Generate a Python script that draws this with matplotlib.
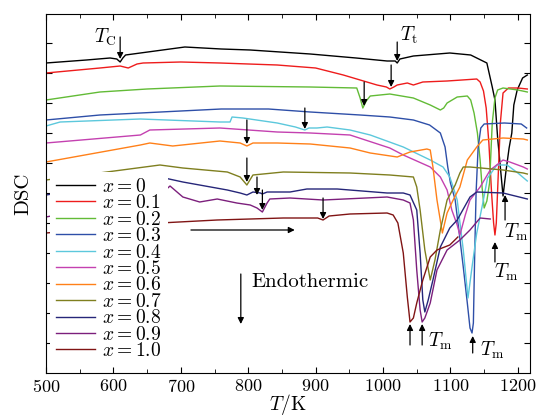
import matplotlib
matplotlib.use("Agg")
import matplotlib.pyplot as plt

plt.rcParams['mathtext.fontset'] = 'cm'
plt.rcParams['font.family'] = 'serif'
plt.rcParams['font.serif'] = ['cmr10']
plt.rcParams['axes.formatter.use_mathtext'] = True

# DSC traces (temperature in K, signal in arbitrary units)
T_00 = [500, 560, 595, 605, 610, 614, 618, 640, 706, 760, 803, 892, 960, 1006, 1018, 1021, 1025, 1045, 1099,
        1130, 1145, 1154, 1162, 1166, 1170, 1174, 1178, 1182, 1187, 1191, 1194, 1199, 1207, 1214]
dsc_00 = [310, 313, 315, 314, 311, 315, 318, 320, 326, 324, 323, 319, 315, 312, 312, 310, 314, 317, 320,
          318, 313, 310, 286, 273, 235, 206, 177, 200, 225, 240, 268, 283, 295, 298]

T_01 = [500, 580, 610, 622, 635, 644, 700, 758, 843, 900, 941, 991, 1005, 1010, 1016, 1021, 1036, 1045, 1059,
        1095, 1139, 1144, 1149, 1153, 1157, 1161, 1164, 1166, 1168, 1171, 1174, 1178, 1186, 1200, 1214]
dsc_01 = [300, 305, 307, 305, 309, 310, 311, 310, 308, 305, 298, 288, 286, 284, 286, 288, 290, 288, 291,
          292, 294, 291, 282, 265, 230, 180, 150, 138, 150, 200, 250, 280, 285, 285, 284]

T_02 = [500, 580, 650, 758, 892, 961, 966, 970, 975, 981, 1010, 1045, 1070, 1085, 1090, 1095, 1110, 1125,
        1130, 1135, 1140, 1144, 1147, 1150, 1154, 1158, 1162, 1166, 1170, 1178, 1200, 1214]
dsc_02 = [273, 281, 284, 287, 286, 285, 275, 265, 272, 277, 279, 275, 268, 263, 265, 270, 276, 277,
          273, 260, 240, 213, 185, 165, 172, 190, 250, 275, 283, 285, 283, 281]

T_03 = [500, 580, 700, 760, 830, 892, 966, 1010, 1045, 1069, 1085, 1092, 1096, 1100, 1107, 1113, 1119, 1125,
        1129, 1132, 1134, 1136, 1138, 1141, 1145, 1150, 1180, 1205, 1213]
dsc_03 = [253, 258, 262, 264, 264, 261, 258, 256, 253, 248, 240, 226, 206, 190, 173, 140, 106, 70,
          45, 40, 50, 120, 180, 225, 245, 249, 250, 249, 245]

T_04 = [500, 521, 640, 758, 773, 776, 792, 843, 870, 884, 890, 902, 917, 951, 981, 1030, 1070, 1089, 1099,
        1104, 1110, 1119, 1126, 1132, 1139, 1148, 1155, 1169, 1184, 1200, 1214]
dsc_04 = [247, 251, 254, 251, 251, 256, 255, 250, 246, 243, 245, 245, 246, 243, 238, 226, 213, 206, 196,
          186, 173, 123, 75, 106, 140, 170, 195, 208, 208, 200, 192]

T_05 = [500, 640, 654, 758, 843, 892, 951, 1010, 1030, 1070, 1085, 1095, 1102, 1110, 1114, 1122, 1129, 1144,
        1159, 1178, 1188, 1208, 1214]
dsc_05 = [230, 238, 243, 245, 241, 240, 238, 225, 218, 206, 196, 183, 163, 148, 138, 158, 173, 186,
          203, 213, 211, 206, 204]

T_06 = [500, 640, 654, 688, 758, 788, 798, 807, 843, 892, 951, 981, 1021, 1040, 1065, 1070, 1074, 1080, 1088,
        1095, 1104, 1114, 1125, 1139, 1148, 1178, 1208, 1214]
dsc_06 = [211, 228, 230, 227, 232, 230, 227, 230, 230, 229, 225, 220, 216, 221, 224, 223, 206, 173, 140,
          160, 173, 186, 213, 226, 233, 235, 234, 233]

T_07 = [500, 669, 703, 769, 788, 798, 807, 852, 951, 1010, 1045, 1050, 1055, 1062, 1070, 1077, 1085, 1095,
        1107, 1114, 1119, 1129, 1178, 1208, 1214]
dsc_07 = [193, 208, 205, 201, 196, 188, 198, 201, 200, 198, 196, 186, 163, 123, 93, 113, 143, 173,
          188, 200, 206, 206, 203, 200, 199]

T_08 = [500, 669, 703, 769, 788, 798, 807, 818, 821, 828, 862, 887, 932, 1006, 1030, 1040, 1050, 1055, 1059,
        1062, 1067, 1074, 1085, 1099, 1110, 1129, 1139, 1178, 1208, 1214]
dsc_08 = [178, 196, 191, 183, 180, 178, 181, 180, 179, 181, 181, 184, 184, 180, 180, 178, 163, 120, 73,
          61, 73, 93, 126, 145, 153, 176, 181, 180, 175, 174]

T_09 = [500, 669, 684, 703, 728, 754, 783, 803, 813, 821, 828, 832, 862, 911, 1006, 1030, 1040, 1045, 1050,
        1055, 1058, 1062, 1070, 1080, 1095, 1114, 1129, 1144, 1159]
dsc_09 = [156, 178, 187, 176, 171, 174, 170, 168, 165, 161, 170, 174, 175, 173, 176, 173, 170, 153, 103,
          63, 51, 55, 70, 103, 123, 133, 143, 155, 154]

T_10 = [500, 669, 754, 852, 903, 911, 920, 951, 1006, 1015, 1022, 1030, 1036, 1040, 1045, 1050, 1059, 1070,
        1080, 1099, 1111]
dsc_10 = [140, 150, 153, 155, 155, 153, 157, 159, 160, 158, 150, 120, 76, 51, 55, 70, 93, 116,
          123, 128, 136]

labels = ['0', '0.1', '0.2', '0.3', '0.4', '0.5', '0.6', '0.7', '0.8', '0.9', '1.0']
colors = ['#000000', '#ee1c1c', '#62bb36', '#2e4fa8', '#5cc8dc', '#c441b0', '#ff8019',
          '#7f7f1f', '#262679', '#7c1f7c', '#801414']

# arrows: (T, start, tip)
down_arrows = [(610, 336, 314), (1021, 331, 312), (1012, 308, 286), (972, 291, 267), (884, 265, 244),
               (798, 253, 229), (798, 215, 191), (813, 196, 178), (821, 183, 163), (911, 175, 154)]
up_arrows = [(1181, 153, 178), (1166, 111, 131), (1133, 20, 37), (1040, 28, 49), (1058, 28, 49)]
tm_labels = [(1179, 141), (1164, 101), (1144, 23), (1066, 32)]

temps = [T_00, T_01, T_02, T_03, T_04, T_05, T_06, T_07, T_08, T_09, T_10]
signals = [dsc_00, dsc_01, dsc_02, dsc_03, dsc_04, dsc_05, dsc_06, dsc_07, dsc_08, dsc_09, dsc_10]

fig = plt.figure(figsize=(5.36, 4.19), dpi=100)
ax = fig.add_axes([46 / 536, 46 / 419, 484 / 536, 359 / 419])

for t, s, lab, c in zip(temps, signals, labels, colors):
    ax.plot(t, s, color=c, lw=1.0, label=r'$x=%s$' % lab)

arrow_kw = dict(arrowstyle='-|>', color='k', lw=0.9, mutation_scale=9, shrinkA=0, shrinkB=0)
for t, a, b in down_arrows + up_arrows:
    ax.annotate('', xy=(t, b), xytext=(t, a), arrowprops=arrow_kw)
for t, y in tm_labels:
    ax.text(t, y, r'$T_\mathrm{m}$', fontsize=14, ha='left', va='center')

ax.text(605, 336, r'$T_\mathrm{C}$', fontsize=14, ha='right', va='center')
ax.text(1025, 338, r'$T_\mathrm{t}$', fontsize=14, ha='left', va='center')

ax.annotate('', xy=(869, 143), xytext=(715, 143), arrowprops=arrow_kw)
ax.annotate('', xy=(789, 49), xytext=(789, 99), arrowprops=arrow_kw)
ax.text(805, 91, 'Endothermic', fontsize=15, ha='left', va='center')

ax.set_xlim(500, 1218)
ax.set_ylim(0, 359)
ax.set_xticks(range(500, 1201, 100))
ax.set_xticks(range(550, 1201, 100), minor=True)
ax.set_yticks(range(30, 331, 30))
ax.tick_params(labelleft=False)
ax.tick_params(which='both', direction='in', top=True, right=True, labelsize=13)
ax.tick_params(which='major', length=4)
ax.tick_params(which='minor', length=3)
ax.set_xlabel(r'$T/\mathrm{K}$', fontsize=14, labelpad=-2)
ax.set_ylabel('DSC', fontsize=15, labelpad=10)

leg = ax.legend(loc='upper left', bbox_to_anchor=(0.008, 0.56), fontsize=14, handlelength=2.0,
                handletextpad=0.4, labelspacing=-0.08, borderpad=0.3, borderaxespad=0,
                facecolor='white', edgecolor='none', framealpha=1, fancybox=False)

fig.savefig('out.png', dpi=100)
